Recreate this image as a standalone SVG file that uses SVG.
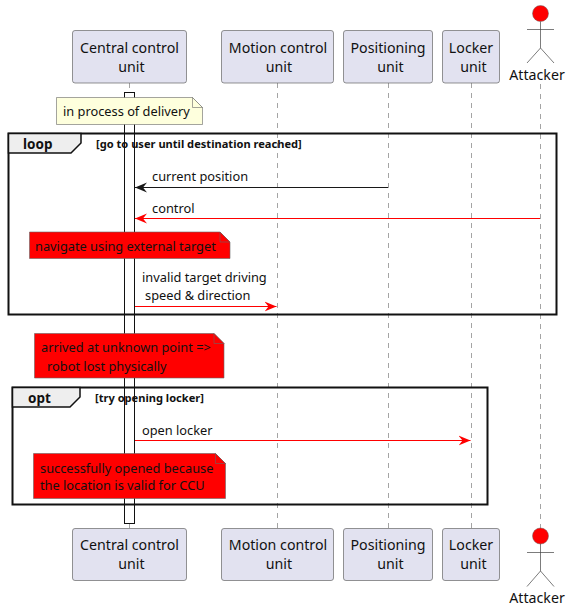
<svg xmlns="http://www.w3.org/2000/svg" width="570" height="610" viewBox="0 0 570 610">
<defs>
<marker id="ah-k" markerUnits="userSpaceOnUse" markerWidth="14" markerHeight="12" refX="12" refY="6" orient="auto-start-reverse"><path d="M0,1 L12,6 L0,11 L4,6 Z" fill="#181818"/></marker>
<marker id="ah-r" markerUnits="userSpaceOnUse" markerWidth="14" markerHeight="12" refX="12" refY="6" orient="auto-start-reverse"><path d="M0,1 L12,6 L0,11 L4,6 Z" fill="#ff0000"/></marker>
</defs>
<style>
text{font-family:"Noto Sans","Open Sans",sans-serif;font-size:12.8px;fill:#111}
.p{font-size:14.2px;text-anchor:middle}
.life{stroke:#666;stroke-width:.6;stroke-dasharray:5 5;fill:none}
.box{fill:#E2E2F0;stroke:#666;stroke-width:.7}
.act{fill:#fff;stroke:#111;stroke-width:1}
.frame{fill:none;stroke:#111;stroke-width:2}
.tab{fill:#EEE;stroke:#111;stroke-width:1.5}
.tabt{font-size:13.5px;font-weight:700}
.cond{font-size:11.1px;font-weight:700}
.note{stroke:#666;stroke-width:.6}
.red{fill:#ff0000}
.fold{fill:#ff0000;stroke:#666;stroke-width:.6}
.stick{fill:none;stroke:#444;stroke-width:.7}
.head{fill:#ff0000;stroke:#666;stroke-width:.5}
.mk{fill:none;stroke:#181818;stroke-width:1;marker-end:url(#ah-k)}
.mr{fill:none;stroke:#ff0000;stroke-width:1;marker-end:url(#ah-r)}
</style>
<g id="lifelines">
<line class="life" x1="129.5" y1="83" x2="129.5" y2="528"/>
<line class="life" x1="277.5" y1="83" x2="277.5" y2="528"/>
<line class="life" x1="388.5" y1="83" x2="388.5" y2="528"/>
<line class="life" x1="471.5" y1="83" x2="471.5" y2="528"/>
<line class="life" x1="540.5" y1="84" x2="540.5" y2="528"/>
</g>
<rect id="activation" class="act" x="124.5" y="92.5" width="10" height="431"/>
<g id="note-delivery">
<path d="M56.5,97.5 H192.5 L202.5,107.5 V124.5 H56.5 Z" fill="#FEFFDD" class="note"/>
<path d="M192.5,97.5 V107.5 H202.5 Z" fill="#FEFFDD" class="note"/>
<text x="63" y="116">in process of delivery</text>
</g>
<g id="frame-loop">
<rect class="frame" x="8.500" y="133.500" width="548" height="181"/>
<path class="tab" d="M8.500,133.500 H81 V143 L71,153 H8.500 Z"/>
<text class="tabt" x="23" y="149">loop</text>
<text class="cond" x="96" y="148">[go to user until destination reached]</text>
</g>
<g id="note-navigate">
<path class="note red" d="M29.500,232 H220 L230,242 V258.500 H29.500 Z"/>
<path class="fold" d="M220,232 V242 H230 Z"/>
<text x="35" y="251">navigate using external target</text>
</g>
<g id="note-arrived">
<path class="note red" d="M34.500,333.500 H214 L224,343.500 V378 H34.500 Z"/>
<path class="fold" d="M214,333.500 V343.500 H224 Z"/>
<text x="41" y="352">arrived at unknown point =&gt;</text>
<text x="47" y="371">robot lost physically</text>
</g>
<g id="frame-opt">
<rect class="frame" x="12.500" y="387.500" width="475" height="117"/>
<path class="tab" d="M12.500,387.500 H80 V397 L70,407 H12.500 Z"/>
<text class="tabt" x="28" y="403">opt</text>
<text class="cond" x="95" y="402">[try opening locker]</text>
</g>
<g id="note-opened">
<path class="note red" d="M33.500,453.500 H215.500 L225.500,463.500 V498.500 H33.500 Z"/>
<path class="fold" d="M215.500,453.500 V463.500 H225.500 Z"/>
<text x="40" y="473">successfully opened because</text>
<text x="40" y="490">the location is valid for CCU</text>
</g>
<g id="connectors">
<line class="mk" x1="388" y1="187.500" x2="135" y2="187.500"/>
<text x="152" y="181">current position</text>
<line class="mr" x1="540" y1="218.500" x2="135" y2="218.500"/>
<text x="152" y="213">control</text>
<line class="mr" x1="135" y1="306.500" x2="276.500" y2="306.500"/>
<text x="142" y="282">invalid target driving</text>
<text x="145" y="300">speed &amp; direction</text>
<line class="mr" x1="135" y1="440.500" x2="470.500" y2="440.500"/>
<text x="142" y="435">open locker</text>
</g>
<g id="ccu-top"><rect class="box" x="72.500" y="30.500" width="114" height="52.500" rx="2.500"/><text class="p" x="129.500" y="53">Central control</text><text class="p" x="131.500" y="72">unit</text></g>
<g id="mcu-top"><rect class="box" x="221.500" y="30.500" width="112" height="52.500" rx="2.500"/><text class="p" x="278" y="53">Motion control</text><text class="p" x="279" y="72">unit</text></g>
<g id="pos-top"><rect class="box" x="343.500" y="30.500" width="89" height="52.500" rx="2.500"/><text class="p" x="388" y="53">Positioning</text><text class="p" x="390.500" y="72">unit</text></g>
<g id="lock-top"><rect class="box" x="442.500" y="30.500" width="57" height="52.500" rx="2.500"/><text class="p" x="471" y="53">Locker</text><text class="p" x="473.500" y="72">unit</text></g>
<g id="attacker-top"><circle class="head" cx="540.500" cy="13.500" r="8"/><path class="stick" d="M540.500,21.500 V48 M527,29.500 H554 M527,63 L540.500,48 L554,63"/><text class="p" x="537" y="80">Attacker</text></g>
<g id="ccu-bottom"><rect class="box" x="72.500" y="528.500" width="114" height="52" rx="2.500"/><text class="p" x="129.500" y="550">Central control</text><text class="p" x="131.500" y="569">unit</text></g>
<g id="mcu-bottom"><rect class="box" x="221.500" y="528.500" width="112" height="52" rx="2.500"/><text class="p" x="278" y="550">Motion control</text><text class="p" x="279" y="569">unit</text></g>
<g id="pos-bottom"><rect class="box" x="343.500" y="528.500" width="89" height="52" rx="2.500"/><text class="p" x="388" y="550">Positioning</text><text class="p" x="390.500" y="569">unit</text></g>
<g id="lock-bottom"><rect class="box" x="442.500" y="528.500" width="57" height="52" rx="2.500"/><text class="p" x="471" y="550">Locker</text><text class="p" x="473.500" y="569">unit</text></g>
<g id="attacker-bottom"><circle class="head" cx="540.500" cy="536" r="8"/><path class="stick" d="M540.500,544 V571 M527,552.500 H554 M527,586.500 L540.500,571 L554,586.500"/><text class="p" x="537" y="603">Attacker</text></g>
</svg>
